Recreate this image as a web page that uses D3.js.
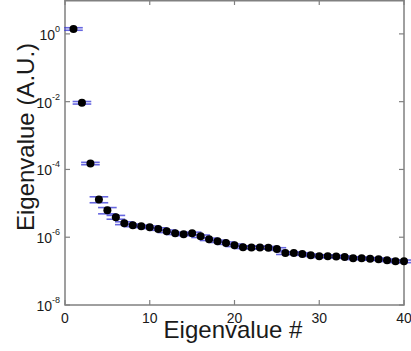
<!DOCTYPE html>
<meta charset="utf-8">
<style>
body { margin: 0; background: #fff; }
text { font-family: Arial, "Liberation Sans", sans-serif; fill: #1a1a1a; }
.frame { fill: none; stroke: #808080; stroke-width: 1.5px; }
.tick { stroke: #808080; stroke-width: 1.2px; }
.err { stroke: #3434d6; stroke-width: 1.6px; stroke-opacity: .75; }
.dot { fill: #000; }
</style>
<body>
<svg width="411" height="351"></svg>
<script src="https://cdn.jsdelivr.net/npm/d3@7/dist/d3.min.js"></script>
<script>

// eigenvalue index
var idx = [1,2,3,4,5,6,7,8,9,10,11,12,13,14,15,16,17,18,19,20,
           21,22,23,24,25,26,27,28,29,30,31,32,33,34,35,36,37,38,39,40];
// eigenvalues (A.U.)
var eig = [1.4, 9.3e-3, 1.5e-4, 1.3e-5, 6.2e-6, 3.9e-6, 2.6e-6, 2.25e-6, 2.1e-6, 1.97e-6,
           1.75e-6, 1.5e-6, 1.31e-6, 1.22e-6, 1.3e-6, 1.07e-6, 8.7e-7, 7.6e-7, 6.7e-7, 5.8e-7,
           5.1e-7, 5.0e-7, 5.0e-7, 4.9e-7, 4.5e-7, 3.4e-7, 3.4e-7, 3.2e-7, 2.95e-7, 2.75e-7,
           2.75e-7, 2.7e-7, 2.6e-7, 2.4e-7, 2.4e-7, 2.3e-7, 2.25e-7, 2.1e-7, 1.95e-7, 1.95e-7];
// error (absolute)
var err = [0.12, 8e-4, 1.2e-5, 2.6e-6, 1.3e-6, 5e-7, 2.5e-7, 2e-7, 1.8e-7, 1.7e-7,
           1.5e-7, 1.3e-7, 1.1e-7, 1.1e-7, 1.1e-7, 9e-8, 7e-8, 6e-8, 5.5e-8, 5e-8,
           4.5e-8, 4.5e-8, 4.5e-8, 4.5e-8, 4e-8, 3e-8, 3e-8, 2.8e-8, 2.5e-8, 2.4e-8,
           2.4e-8, 2.3e-8, 2.2e-8, 2e-8, 2e-8, 2e-8, 1.9e-8, 1.8e-8, 1.7e-8, 1.7e-8];

var xTicks = [0, 10, 20, 30, 40];
var yTicks = [1e0, 1e-2, 1e-4, 1e-6, 1e-8];
var yExp = ["0", "-2", "-4", "-6", "-8"];

var svg = d3.select("svg");

var x = d3.scaleLinear().domain([0, 40]).range([65, 404]),
    y = d3.scaleLog().domain([1e-8, 10]).range([305, 0]);

var capW = 1.1; // half width of the error caps in x units

// box
svg.append("rect").attr("class", "frame")
    .attr("x", x(0)).attr("y", 0.75)
    .attr("width", x(40) - x(0)).attr("height", y(1e-8) - 0.75);

// ticks (inward, mirrored)
xTicks.forEach(function(t) {
  svg.append("line").attr("class", "tick")
     .attr("x1", x(t)).attr("x2", x(t)).attr("y1", y(1e-8)).attr("y2", y(1e-8) - 5);
  svg.append("line").attr("class", "tick")
     .attr("x1", x(t)).attr("x2", x(t)).attr("y1", 0).attr("y2", 5);
  svg.append("text").attr("x", x(t)).attr("y", 323)
     .attr("text-anchor", "middle").style("font-size", "14px").text(t);
});

yTicks.forEach(function(t, i) {
  svg.append("line").attr("class", "tick")
     .attr("x1", x(0)).attr("x2", x(0) + 5).attr("y1", y(t)).attr("y2", y(t));
  svg.append("line").attr("class", "tick")
     .attr("x1", x(40)).attr("x2", x(40) - 5).attr("y1", y(t)).attr("y2", y(t));
  var lab = svg.append("text").attr("x", 60).attr("y", y(t) + 6)
     .attr("text-anchor", "end").style("font-size", "14px");
  lab.append("tspan").text("10");
  lab.append("tspan").attr("dy", -8).style("font-size", "9px").text(yExp[i]);
});

// error bars
var g = svg.append("g");
idx.forEach(function(d, i) {
  var hi = eig[i] + err[i], lo = eig[i] - err[i];
  g.append("line").attr("class", "err")
   .attr("x1", x(d)).attr("x2", x(d)).attr("y1", y(hi)).attr("y2", y(lo));
  [hi, lo].forEach(function(v) {
    g.append("line").attr("class", "err")
     .attr("x1", x(d - capW)).attr("x2", x(d + capW)).attr("y1", y(v)).attr("y2", y(v));
  });
});

// points
svg.selectAll(".dot")
  .data(idx)
  .enter().append("circle")
    .attr("class", "dot")
    .attr("cx", function(d) { return x(d); })
    .attr("cy", function(d, i) { return y(eig[i]); })
    .attr("r", 4);

// axis labels
svg.append("text")
    .attr("x", 233).attr("y", 338)
    .attr("text-anchor", "middle")
    .style("font-size", "24px")
    .text("Eigenvalue #");

svg.append("text")
    .attr("transform", "translate(34,137) rotate(-90)")
    .attr("text-anchor", "middle")
    .style("font-size", "24px")
    .text("Eigenvalue (A.U.)");

</script>
</body>
